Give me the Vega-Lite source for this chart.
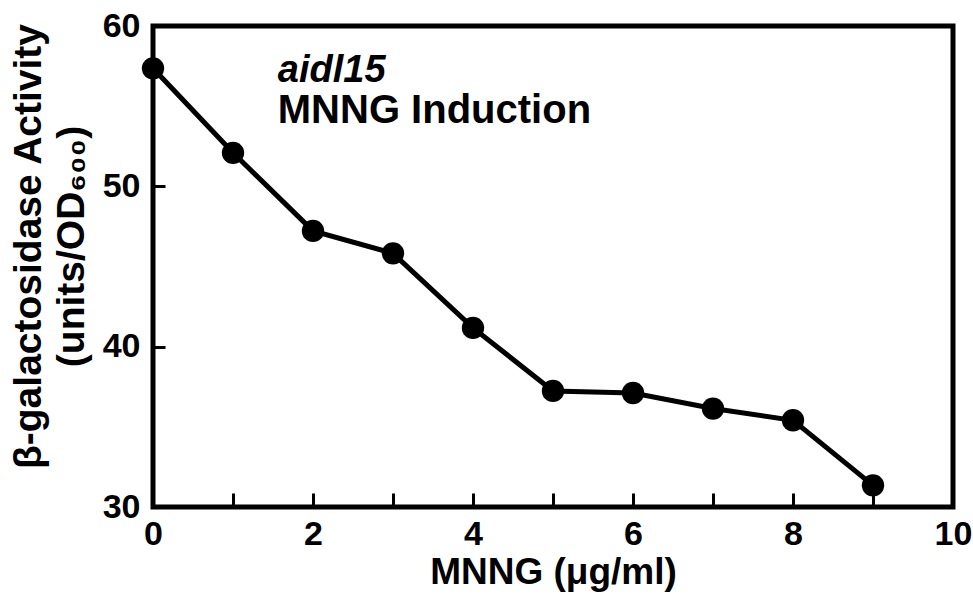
{
  "$schema": "https://vega.github.io/schema/vega-lite/v6.json",
  "width": 800,
  "height": 481,
  "autosize": {"type": "none"},
  "padding": {"left": 153, "top": 26, "right": 20, "bottom": 91},
  "background": "white",
  "config": {
    "view": {"stroke": "black", "strokeWidth": 5},
    "font": "Liberation Sans",
    "axis": {"domain": false, "grid": false, "tickColor": "black", "tickWidth": 3, "labelColor": "black", "titleColor": "black", "labelFont": "Liberation Sans", "titleFont": "Liberation Sans", "labelFontWeight": "bold", "titleFontWeight": "bold"}
  },
  "layer": [
    {
      "data": {"values": [
        {"mnng": 0, "activity": 57.36},
        {"mnng": 1, "activity": 52.09},
        {"mnng": 2, "activity": 47.22},
        {"mnng": 3, "activity": 45.82},
        {"mnng": 4, "activity": 41.17},
        {"mnng": 5, "activity": 37.24},
        {"mnng": 6, "activity": 37.11},
        {"mnng": 7, "activity": 36.14},
        {"mnng": 8, "activity": 35.41},
        {"mnng": 9, "activity": 31.35}
      ]},
      "encoding": {
        "x": {"field": "mnng", "type": "quantitative",
          "scale": {"domain": [0, 10], "nice": false, "zero": false},
          "axis": {"values": [0,1,2,3,4,5,6,7,8,9,10], "format": "d", "labelExpr": "datum.value % 2 === 0 ? datum.label : ''", "tickSize": -14, "labelPadding": 24, "labelFontSize": 34, "labelFlush": false, "title": "MNNG (μg/ml)", "titleFontSize": 37, "titlePadding": 3}},
        "y": {"field": "activity", "type": "quantitative",
          "scale": {"domain": [30, 60], "nice": false, "zero": false},
          "axis": {"values": [30, 40, 50, 60], "format": "d", "tickSize": -12, "labelPadding": 25, "labelFontSize": 34, "labelFlush": false, "title": ["β-galactosidase Activity", "(units/OD₆₀₀)\u00a0\u00a0\u00a0"], "titleFontSize": 39, "titleLineHeight": 43, "titleAngle": -90, "titleBaseline": "top", "titleAlign": "center", "titleX": -144, "titleY": 220}}
      },
      "layer": [
        {"mark": {"type": "line", "color": "black", "strokeWidth": 5, "clip": false}},
        {"mark": {"type": "circle", "color": "black", "opacity": 1, "size": 500, "clip": false}}
      ]
    },
    {
      "data": {"values": [
        {"x": 1.56, "y": 56.5, "label": "aidl15"}
      ]},
      "mark": {"type": "text", "align": "left", "baseline": "alphabetic", "fontSize": 38, "fontWeight": "bold", "fontStyle": "italic", "color": "black"},
      "encoding": {
        "x": {"field": "x", "type": "quantitative"},
        "y": {"field": "y", "type": "quantitative"},
        "text": {"field": "label"}
      }
    },
    {
      "data": {"values": [
        {"x": 1.56, "y": 53.94, "label": "MNNG Induction"}
      ]},
      "mark": {"type": "text", "align": "left", "baseline": "alphabetic", "fontSize": 40, "fontWeight": "bold", "color": "black"},
      "encoding": {
        "x": {"field": "x", "type": "quantitative"},
        "y": {"field": "y", "type": "quantitative"},
        "text": {"field": "label"}
      }
    }
  ]
}
